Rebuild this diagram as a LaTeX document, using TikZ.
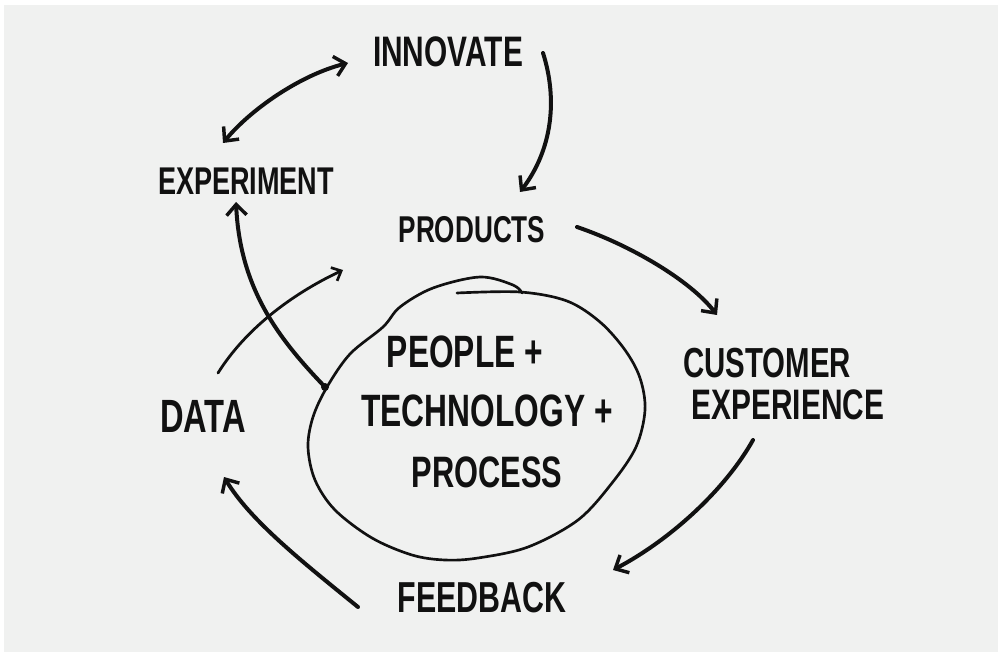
\documentclass[tikz,border=0pt]{standalone}
\usepackage{fontspec}
\newfontfamily\handfont[FakeStretch=0.7]{Liberation Sans}
\usetikzlibrary{arrows.meta}
\definecolor{bg}{HTML}{F0F1F0}
\definecolor{ink}{HTML}{111111}
\tikzset{
  hand/.style={font=\handfont\bfseries\fontsize{#1}{#1}\selectfont, text=ink, inner sep=0pt, anchor=center},
  flow/.style={draw=ink, line width=3pt, line cap=round, -{Straight Barb[length=8pt,width=15pt,line width=2.6pt]}},
  flowthin/.style={draw=ink, line width=2.1pt, line cap=round, -{Straight Barb[length=6pt,width=11pt,line width=2pt]}},
  twoway/.style={draw=ink, line width=3pt, line cap=round, {Straight Barb[length=8pt,width=15pt,line width=2.6pt]}-{Straight Barb[length=8pt,width=15pt,line width=2.6pt]}},
  loop/.style={draw=ink, line width=2pt, line cap=round, line join=round}
}
\begin{document}
\begin{tikzpicture}[x=0.75pt,y=-0.75pt]
\useasboundingbox (0,0) rectangle (998,652);
\fill[white] (0,0) rectangle (998,652);
\fill[bg] (4,5) rectangle (998,652);

% labels
\node[hand=32pt] (innovate) at (448,52) {INNOVATE};
\node[hand=29pt] (experiment) at (246,181) {EXPERIMENT};
\node[hand=28pt] (products) at (472,230) {PRODUCTS};
\node[hand=31.5pt] (customer) at (767,363) {CUSTOMER};
\node[hand=32pt] (experience) at (788,405) {EXPERIENCE};
\node[hand=32.5pt] (feedback) at (482,598) {FEEDBACK};
\node[hand=35pt] (data) at (203,416) {DATA};
\node[hand=34pt] (people) at (465,352) {PEOPLE +};
\node[hand=34pt] (technology) at (487,411) {TECHNOLOGY +};
\node[hand=33pt] (process) at (487,472) {PROCESS};

% hand-drawn loop around the centre
\draw[loop] plot[smooth, tension=0.55] coordinates {
 (457,293) (520,292) (567,301) (600,322) (625,350) (640,378) (645,410) (636,447)
 (612,483) (578,520) (528,547) (478,558) (445,560) (412,555) (372,538) (335,510)
 (315,480) (308,447) (313,417) (327,387) (350,354) (383,327) (400,307) (433,288)
 (480,277) (513,285) (522,293)};

% connector end points
\coordinate (expIn) at (223,143);
\coordinate (innIn) at (348,63);
\coordinate (innOut) at (543,53);
\coordinate (prodIn) at (520,192);
\coordinate (prodOut) at (577,227);
\coordinate (custIn) at (717,315);
\coordinate (custOut) at (753,440);
\coordinate (feedIn) at (613,570);
\coordinate (feedOut) at (358,607);
\coordinate (dataIn) at (224,477);
\coordinate (dataOut) at (218,373);
\coordinate (prodIn2) at (343,270);
\coordinate (core) at (325,387);
\coordinate (expIn2) at (236,202);

\fill[ink] (core) circle[radius=4];

\draw[twoway] (expIn) .. controls (250,110) and (300,75) .. (innIn);
\draw[flow] (innOut) .. controls (558,100) and (552,150) .. (prodIn);
\draw[flow] (prodOut) .. controls (630,245) and (690,280) .. (custIn);
\draw[flow] (custOut) .. controls (725,490) and (670,540) .. (feedIn);
\draw[flow] (feedOut) .. controls (300,560) and (250,520) .. (dataIn);
\draw[flowthin] (dataOut) .. controls (245,330) and (290,295) .. (prodIn2);
\draw[flow] (core) .. controls (280,340) and (240,290) .. (expIn2);
\end{tikzpicture}
\end{document}
